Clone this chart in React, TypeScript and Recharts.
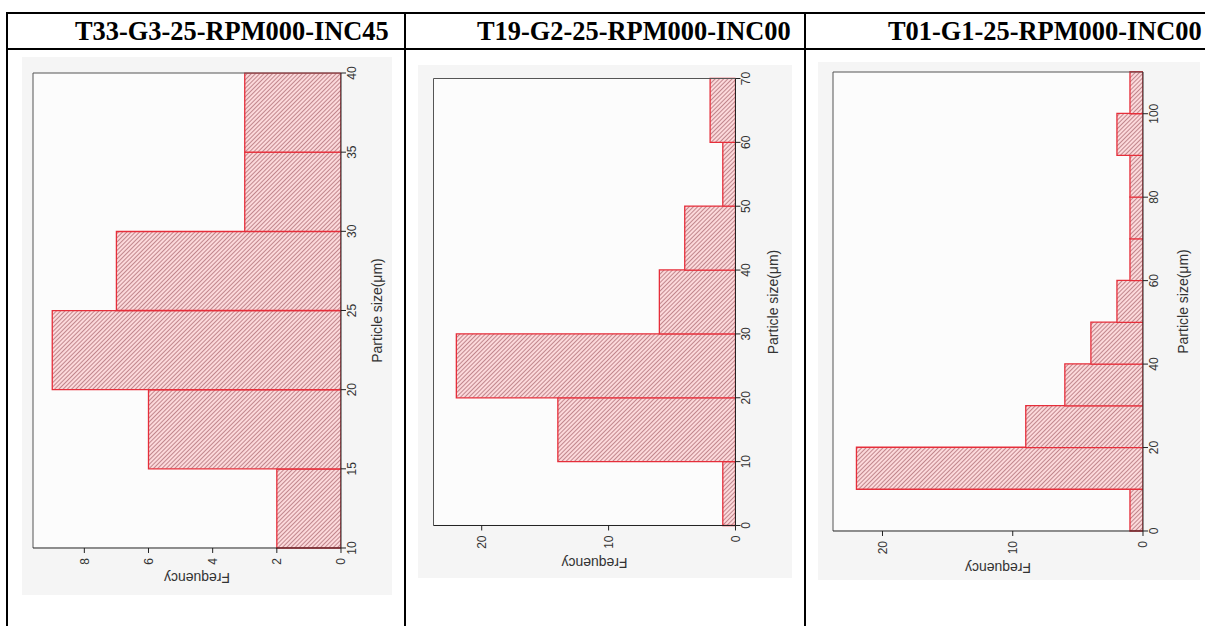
import React from 'react';
import { ComposedChart, Bar, XAxis, YAxis, ReferenceLine, CartesianGrid } from 'recharts';

const titles = ['T33-G3-25-RPM000-INC45', 'T19-G2-25-RPM000-INC00', 'T01-G1-25-RPM000-INC00'];

// T33: 5 um bins, 10..40
const bins1 = ['10-15', '15-20', '20-25', '25-30', '30-35', '35-40'];
const lower1 = [10, 15, 20, 25, 30, 35];
const freq1 = [2, 6, 9, 7, 3, 3];
const sizeTicks1 = [10, 15, 20, 25, 30, 35, 40];
const sizeMinor1 = [12.5, 17.5, 22.5, 27.5, 32.5, 37.5];
const freqTicks1 = [0, 2, 4, 6, 8];
const freqMinor1 = [1, 3, 5, 7, 9];

// T19: 10 um bins, 0..70
const bins2 = ['0-10', '10-20', '20-30', '30-40', '40-50', '50-60', '60-70'];
const lower2 = [0, 10, 20, 30, 40, 50, 60];
const freq2 = [1, 14, 22, 6, 4, 1, 2];
const sizeTicks2 = [0, 10, 20, 30, 40, 50, 60, 70];
const sizeMinor2 = [5, 15, 25, 35, 45, 55, 65];
const freqTicks2 = [0, 10, 20];
const freqMinor2 = [5, 15];

// T01: 10 um bins, 0..110
const bins3 = ['0-10', '10-20', '20-30', '30-40', '40-50', '50-60', '60-70', '70-80', '80-90', '90-100', '100-110'];
const lower3 = [0, 10, 20, 30, 40, 50, 60, 70, 80, 90, 100];
const freq3 = [1, 22, 9, 6, 4, 2, 1, 1, 1, 2, 1];
const sizeTicks3 = [0, 20, 40, 60, 80, 100];
const sizeMinor3 = [10, 30, 50, 70, 90];
const freqTicks3 = [0, 10, 20];
const freqMinor3 = [5, 15];

const SANS = '"Liberation Sans", Arial, sans-serif';
const SERIF = '"Liberation Serif", "Times New Roman", serif';
const tickStyle = { fill: '#333', fontSize: 12, fontFamily: SANS };

type HistProps = {
  id: string;
  bins: string[];
  lower: number[];
  freq: number[];
  sizeDomain: [number, number];
  sizeTicks: number[];
  sizeMinor: number[];
  freqMax: number;
  freqTicks: number[];
  freqMinor: number[];
  left: number;
  top: number;
  w: number; // unrotated width (= height on the page)
  h: number; // unrotated height (= width on the page)
  mTop: number;
  mRight: number;
  yW: number;
  xH: number;
  sizeGap: number;
  freqGap: number;
};

// the original plot is a normal histogram turned 90deg counter-clockwise
function Histogram(p: HistProps) {
  const data = p.bins.map((bin, i) => ({ bin, lo: p.lower[i], freq: p.freq[i] }));
  const sizeTitle = (props: any) => {
    const vb = props.viewBox;
    return (
      <text x={vb.x + vb.width / 2} y={vb.y + p.sizeGap} textAnchor="middle" dominantBaseline="central"
        fill="#333" fontSize={14} fontFamily={SANS}>
        Particle size(μm)
      </text>
    );
  };
  const freqTitle = (props: any) => {
    const vb = props.viewBox;
    const x = vb.x + vb.width - p.freqGap;
    const y = vb.y + vb.height / 2 + 10;
    return (
      <text x={x} y={y} transform={`rotate(-90 ${x} ${y})`} textAnchor="middle" dominantBaseline="central"
        fill="#333" fontSize={14} fontFamily={SANS}>
        Frequency
      </text>
    );
  };
  return (
    <div style={{ position: 'absolute', left: p.left, top: p.top, width: p.h, height: p.w, background: '#f5f5f5' }}>
      <div style={{ position: 'absolute', left: (p.h - p.w) / 2, top: (p.w - p.h) / 2, width: p.w, height: p.h, transform: 'rotate(-90deg)' }}>
        <ComposedChart width={p.w} height={p.h} data={data} margin={{ top: p.mTop, right: p.mRight, left: 0, bottom: 0 }}
          barCategoryGap={0} barGap={0}>
          <defs>
            <pattern id={`hatch-${p.id}`} width={3} height={3} patternUnits="userSpaceOnUse" patternTransform="rotate(45)">
              <rect width={3} height={3} fill="#fcd9db" />
              <line x1={0} y1={0.5} x2={3} y2={0.5} stroke="#b27279" strokeWidth={0.8} />
            </pattern>
          </defs>
          <XAxis xAxisId="sizeMinor" dataKey="lo" type="number" domain={p.sizeDomain} ticks={p.sizeMinor} allowDataOverflow
            height={0.01} axisLine={false} tick={false} tickSize={3} tickLine={{ stroke: '#333' }} />
          <XAxis xAxisId="size" dataKey="lo" type="number" domain={p.sizeDomain} ticks={p.sizeTicks} allowDataOverflow interval={0}
            height={p.xH} axisLine={{ stroke: '#222' }} tickLine={{ stroke: '#222' }} tickSize={5} tickMargin={1}
            tick={tickStyle} label={{ content: sizeTitle }} />
          <XAxis xAxisId="bins" dataKey="bin" type="category" hide height={0} />
          <YAxis yAxisId="freqMinor" type="number" domain={[0, p.freqMax]} ticks={p.freqMinor} allowDataOverflow
            width={0.01} axisLine={false} tick={false} tickSize={3} tickLine={{ stroke: '#333' }} />
          <YAxis yAxisId="freq" type="number" domain={[0, p.freqMax]} ticks={p.freqTicks} allowDataOverflow interval={0}
            width={p.yW} axisLine={{ stroke: '#222' }} tickLine={{ stroke: '#222' }} tickSize={5} tickMargin={5}
            tick={tickStyle} label={{ content: freqTitle }} />
          <CartesianGrid xAxisId="size" yAxisId="freq" horizontal={false} vertical={false} fill="#fcfcfc" />
          <ReferenceLine xAxisId="size" yAxisId="freq" y={p.freqMax} stroke="#555" ifOverflow="visible" />
          <ReferenceLine xAxisId="size" yAxisId="freq" x={p.sizeDomain[1]} stroke="#555" ifOverflow="visible" />
          <Bar xAxisId="bins" yAxisId="freq" dataKey="freq" fill={`url(#hatch-${p.id})`} stroke="#e62e3a"
            strokeWidth={1.3} isAnimationActive={false} />
        </ComposedChart>
      </div>
    </div>
  );
}

export default function App() {
  return (
    <div style={{ position: 'absolute', left: 0, top: 0, width: 1205, height: 626, background: '#fff', overflow: 'hidden' }}>
      <svg width={1205} height={626} style={{ position: 'absolute', left: 0, top: 0 }}>
        <rect x={7} y={12} width={1198} height={2} fill="#000" />
        <rect x={7} y={48} width={1198} height={2} fill="#000" />
        <rect x={6} y={12} width={2} height={614} fill="#000" />
        <rect x={404} y={12} width={2} height={614} fill="#000" />
        <rect x={804} y={12} width={2} height={614} fill="#000" />
        <text x={75} y={40} fontFamily={SERIF} fontWeight="bold" fontSize={26.4} fill="#000">{titles[0]}</text>
        <text x={477} y={40} fontFamily={SERIF} fontWeight="bold" fontSize={26.4} fill="#000">{titles[1]}</text>
        <text x={888} y={40} fontFamily={SERIF} fontWeight="bold" fontSize={26.4} fill="#000">{titles[2]}</text>
      </svg>
      <Histogram id="a" bins={bins1} lower={lower1} freq={freq1} sizeDomain={[10, 40]} sizeTicks={sizeTicks1} sizeMinor={sizeMinor1}
        freqMax={9.6} freqTicks={freqTicks1} freqMinor={freqMinor1}
        left={22} top={57} w={538} h={370} mTop={11} mRight={16} yW={47} xH={51} sizeGap={36} freqGap={30} />
      <Histogram id="b" bins={bins2} lower={lower2} freq={freq2} sizeDomain={[0, 70]} sizeTicks={sizeTicks2} sizeMinor={sizeMinor2}
        freqMax={23.8} freqTicks={freqTicks2} freqMinor={freqMinor2}
        left={418} top={65} w={513} h={374} mTop={15} mRight={13} yW={53} xH={57} sizeGap={38} freqGap={37} />
      <Histogram id="c" bins={bins3} lower={lower3} freq={freq3} sizeDomain={[0, 110]} sizeTicks={sizeTicks3} sizeMinor={sizeMinor3}
        freqMax={23.8} freqTicks={freqTicks3} freqMinor={freqMinor3}
        left={818} top={62} w={518} h={382} mTop={15} mRight={10} yW={49} xH={57} sizeGap={40} freqGap={37} />
    </div>
  );
}
